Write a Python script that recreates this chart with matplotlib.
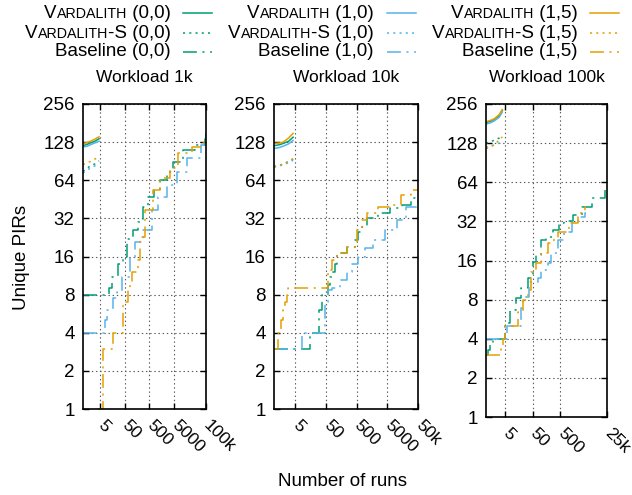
import matplotlib
matplotlib.use("Agg")
import matplotlib.pyplot as plt
from matplotlib.lines import Line2D
from matplotlib.offsetbox import TextArea, HPacker, AnnotationBbox
from matplotlib.ticker import NullLocator

plt.rcParams["font.family"] = ["Liberation Sans", "DejaVu Sans"]
plt.rcParams["lines.scale_dashes"] = False

GREEN = "#009e73"
BLUE = "#56b4e9"
ORANGE = "#e69f00"

configs = ["(0,0)", "(1,0)", "(1,5)"]
y_ticks = [1, 2, 4, 8, 16, 32, 64, 128, 256]

# ---- Workload 1k ----
x_ticks_1k = [5, 50, 500, 5000, 100000]
x_labels_1k = ["5", "50", "500", "5000", "100k"]
vard_x_1k = [1, 1.5, 2, 3, 4.5]
vard_1k_00 = [120, 123, 126, 130, 136]
vard_1k_10 = [117, 119, 122, 126, 130]
vard_1k_15 = [125, 127, 130, 135, 141]
vards_1k_00 = [75, 80, 83, 86, 91]
vards_1k_10 = [73, 77, 80, 83, 86]
vards_1k_15 = [85, 88, 90, 94, 98]
base_1k_00_x = [1, 10, 11, 15, 27, 43, 62, 110, 175, 280, 450, 800, 1400, 2500, 4700, 12000, 37000, 90000, 100000]
base_1k_00_y = [8, 8, 9, 11, 14, 16, 22, 26, 30, 39, 47, 55, 64, 75, 89, 111, 122, 135, 150]
base_1k_10_x = [1, 6, 7.9, 9.5, 17, 24, 39, 83, 133, 280, 650, 1150, 2700, 6900, 17000, 60000, 100000]
base_1k_10_y = [4, 4, 5, 6, 7.5, 8.4, 11, 16, 21, 26, 37, 47, 59, 75, 96, 122, 128]
base_1k_15_x = [3.7, 6.5, 17, 43, 68, 83, 100, 175, 210, 340, 720, 1400, 3500, 7500, 28000, 70000, 100000]
base_1k_15_y = [1, 3, 4, 7, 8.7, 10, 12, 15, 23, 37, 54, 67, 80, 105, 118, 126, 128]

# ---- Workload 10k ----
x_ticks_10k = [5, 50, 500, 5000, 50000]
x_labels_10k = ["5", "50", "500", "5000", "50k"]
vard_x_10k = [1, 1.5, 2, 3, 4.2]
vard_10k_00 = [120, 122, 125, 130, 140]
vard_10k_10 = [114, 116, 119, 124, 132]
vard_10k_15 = [125, 126, 128, 138, 150]
vards_10k_00 = [82, 84, 86, 90, 94]
vards_10k_10 = [81, 83, 85, 88, 92]
vards_10k_15 = [82, 84, 86, 90, 95]
base_10k_00_x = [1, 15, 30, 37, 56, 65, 80, 95, 116, 250, 450, 570, 770, 1100, 2400, 6300, 15600, 30000, 50000]
base_10k_00_y = [3, 4, 6, 8, 9.5, 11, 12, 14, 17, 19, 21.6, 25, 27.5, 32, 35, 38.6, 41, 46, 49]
base_10k_10_x = [1, 8.3, 47, 59, 80, 145, 250, 360, 570, 960, 1750, 4300, 10700, 19600, 50000]
base_10k_10_y = [3, 4, 7, 8.7, 9, 10.4, 12, 14, 16, 18.7, 21.6, 26, 31, 39.4, 46]
base_10k_15_x = [1, 1.35, 1.7, 2.0, 2.3, 2.6, 2.9, 58, 80, 116, 250, 530, 770, 1100, 2400, 5500, 13500, 29000, 50000]
base_10k_15_y = [3, 4, 5, 6, 7, 8, 9, 12.5, 15, 17, 19, 26, 31, 35, 39, 41, 49, 54, 54]

# ---- Workload 100k ----
x_ticks_100k = [5, 50, 500, 25000]
x_labels_100k = ["5", "50", "500", "25k"]
vard_x_100k = [1, 1.5, 2, 3, 3.9]
vard_100k_00 = [184, 189, 195, 208, 228]
vard_100k_10 = [179, 184, 190, 202, 222]
vard_100k_15 = [187, 192, 197, 212, 232]
vards_100k_00 = [128, 131, 135, 140, 148]
vards_100k_10 = [119, 121, 124, 128, 136]
vards_100k_15 = [116, 120, 125, 135, 143]
base_100k_00_x = [1, 1.2, 1.4, 1.8, 5, 7.7, 11.9, 18, 33, 50, 65, 100, 150, 280, 460, 700, 1500, 3000, 7000, 21500]
base_100k_00_y = [3, 3.3, 3.6, 4, 5.3, 6.7, 8.2, 9.8, 11.7, 15.6, 17.7, 23, 24.3, 27.5, 31, 32, 36, 41, 48.5, 56]
base_100k_10_x = [1, 5, 6, 15, 18, 23, 36, 65, 77, 100, 180, 235, 430, 700, 1300, 2300, 3900, 4200]
base_100k_10_y = [4, 4, 5, 5, 6.9, 8.4, 11, 11, 11.7, 13.5, 15.3, 18.3, 23, 26.5, 31, 34.7, 37, 37]
base_100k_15_x = [1, 3.5, 4.2, 5, 15, 23, 33, 42, 65, 100, 180, 300, 430, 1000, 2300, 3900, 4200]
base_100k_15_y = [3, 3.5, 4, 5, 6.4, 8, 9.5, 13, 15.3, 18.3, 21.9, 24, 26.5, 31, 37, 41, 41]

SOLID = "-"
DOTTED = (0, (1.5, 3))
DASHDOT = (0, (10, 4, 1.5, 4))
LW = 1.1

W, H = 632, 495
fig = plt.figure(figsize=(W / 100, H / 100), dpi=100)


def draw_panel(box, title, xmax, xticks, xlabels, vard_x, vards, vard_s, bases):
    left, top, right, bottom = box
    ax = fig.add_axes([left / W, 1 - bottom / H, (right - left) / W, (bottom - top) / H])
    colors = [GREEN, BLUE, ORANGE]
    for c, v, vs, (bx, by) in zip(colors, vards, vard_s, bases):
        ax.plot(vard_x, v, color=c, lw=LW, ls=SOLID)
        ax.plot(vard_x, vs, color=c, lw=LW, ls=DOTTED)
        ax.plot(bx, by, color=c, lw=LW, ls=DASHDOT, drawstyle="steps-post")
    ax.set_xscale("log")
    ax.set_yscale("log", base=2)
    ax.set_xlim(1, xmax)
    ax.set_ylim(1, 256)
    ax.set_xticks(xticks)
    ax.set_xticklabels(xlabels)
    ax.xaxis.set_minor_locator(NullLocator())
    ax.set_yticks(y_ticks)
    ax.set_yticklabels([str(t) for t in y_ticks])
    ax.yaxis.set_minor_locator(NullLocator())
    ax.tick_params(direction="in", top=True, right=True, length=4, width=1,
                   labelsize=13.5, color="black")
    ax.tick_params(axis="y", pad=6)
    ax.tick_params(axis="x", pad=10, labelsize=12.5)
    for lab in ax.get_xticklabels():
        lab.set_rotation(-45)
        lab.set_ha("left")
        lab.set_va("center")
        lab.set_rotation_mode("anchor")
    ax.grid(True, which="major", color="0.35", ls=(0, (1, 2)), lw=0.8)
    for s in ax.spines.values():
        s.set_linewidth(1.2)
    fig.text((left + right) / 2 / W, 1 - 78 / H, title, ha="center", va="center", fontsize=12.5)
    return ax


draw_panel((83, 104, 206, 409), "Workload 1k", 100000, x_ticks_1k, x_labels_1k, vard_x_1k,
           [vard_1k_00, vard_1k_10, vard_1k_15], [vards_1k_00, vards_1k_10, vards_1k_15],
           [(base_1k_00_x, base_1k_00_y), (base_1k_10_x, base_1k_10_y), (base_1k_15_x, base_1k_15_y)])
draw_panel((274, 104, 418, 409), "Workload 10k", 50000, x_ticks_10k, x_labels_10k, vard_x_10k,
           [vard_10k_00, vard_10k_10, vard_10k_15], [vards_10k_00, vards_10k_10, vards_10k_15],
           [(base_10k_00_x, base_10k_00_y), (base_10k_10_x, base_10k_10_y), (base_10k_15_x, base_10k_15_y)])
draw_panel((486, 104, 607, 417), "Workload 100k", 25000, x_ticks_100k, x_labels_100k, vard_x_100k,
           [vard_100k_00, vard_100k_10, vard_100k_15], [vards_100k_00, vards_100k_10, vards_100k_15],
           [(base_100k_00_x, base_100k_00_y), (base_100k_10_x, base_100k_10_y), (base_100k_15_x, base_100k_15_y)])

fig.text(22 / W, 1 - 257 / H, "Unique PIRs", rotation=90, ha="center", va="center", fontsize=13.5)
fig.text(342 / W, 1 - 481 / H, "Number of runs", ha="center", va="center", fontsize=13.5)

# legend, gnuplot style: label right-aligned, then the line sample
BIG = 13.5
SMALL = 10.3


def label_box(kind, cfg):
    big = {"fontsize": BIG}
    small = {"fontsize": SMALL}
    if kind == "base":
        parts = [TextArea("Baseline " + cfg, textprops=big)]
    else:
        tail = "-S " if kind == "vards" else " "
        parts = [TextArea("V", textprops=big), TextArea("ARDALITH", textprops=small),
                 TextArea(tail + cfg, textprops=big)]
    return HPacker(children=parts, align="baseline", pad=0, sep=0)


text_right = [171, 374, 578]
line_span = [(183, 212), (387, 416), (590, 619)]
row_y = [13, 33, 52]
kinds = [("vard", SOLID), ("vards", DOTTED), ("base", DASHDOT)]
for cfg, c, tr, (l0, l1) in zip(configs, [GREEN, BLUE, ORANGE], text_right, line_span):
    for (kind, ls), ry in zip(kinds, row_y):
        ab = AnnotationBbox(label_box(kind, cfg), (tr / W, 1 - ry / H), xycoords="figure fraction",
                            box_alignment=(1, 0.5), frameon=False, pad=0)
        fig.add_artist(ab)
        fig.add_artist(Line2D([l0 / W, l1 / W], [1 - ry / H, 1 - ry / H], color=c, lw=LW, ls=ls,
                              transform=fig.transFigure))

fig.savefig("out.png", dpi=100)
